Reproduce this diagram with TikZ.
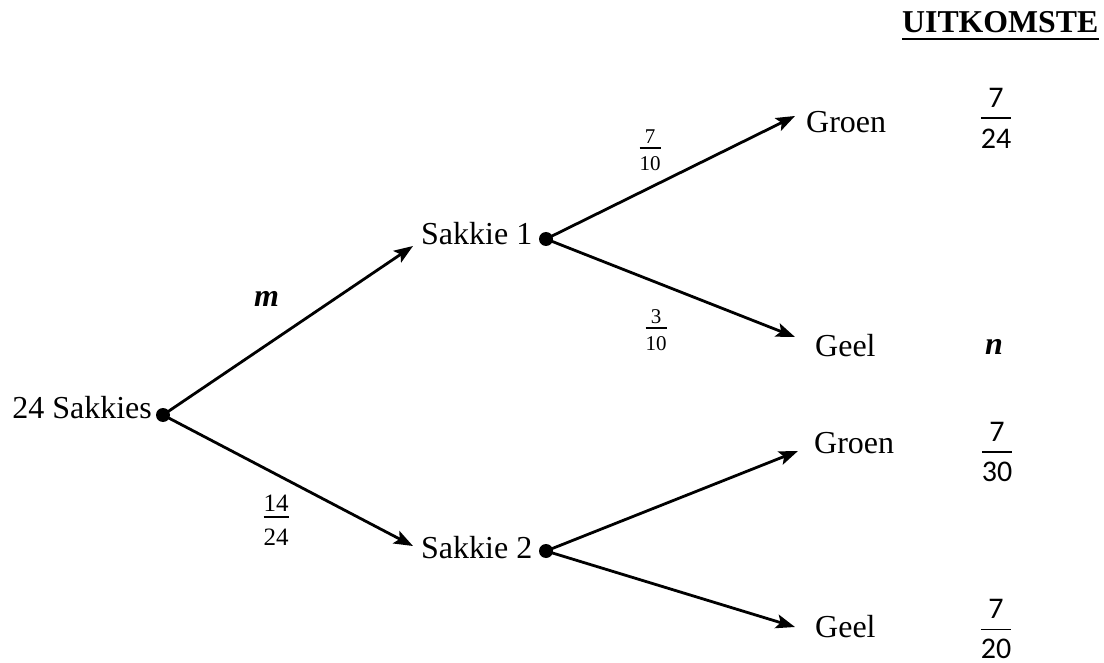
\documentclass[tikz,border=0pt]{standalone}
\usepackage{fontspec}
\setmainfont{Liberation Serif}
\newfontfamily\calfont{Carlito}
\usetikzlibrary{arrows.meta}
\setlength{\arrayrulewidth}{1.8pt}
\newcommand\fr[4]{{\renewcommand\arraystretch{0}\begin{tabular}{@{}c@{}}\rule[-#3]{0pt}{#3}#1\\\hline\rule{0pt}{#4}#2\end{tabular}}}
\tikzset{
  lbl/.style={inner sep=0pt, anchor=base west, font=\fontsize{32}{38}\selectfont},
  dotnode/.style={circle, fill=black, inner sep=0pt, minimum size=14pt},
  arr/.style={line width=2.8pt, -{Stealth[length=19pt,width=14pt,inset=4pt]}},
  smallfrac/.style={inner sep=0pt, font=\fontsize{21}{25}\selectfont},
  outfrac/.style={inner sep=0pt, font=\calfont\fontsize{30}{36}\selectfont},
  var/.style={inner sep=0pt, anchor=base west, font=\fontsize{32}{38}\selectfont\bfseries\itshape}
}
\begin{document}
\begin{tikzpicture}[x=1pt,y=-1pt]
\useasboundingbox (0,0) rectangle (1104,663);
% dots
\node[dotnode] (r) at (163,415) {};
\node[dotnode] (s1) at (546,239) {};
\node[dotnode] (s2) at (546,551) {};
% labels
\node[lbl, anchor=base east] (rl) at (152,418) {24 Sakkies};
\node[lbl] (s1l) at (421,245) {Sakkie 1};
\node[lbl] (s2l) at (421,558) {Sakkie 2};
\node[lbl] (g1) at (806,133) {Groen};
\node[lbl] (y1) at (815,356) {Geel};
\node[lbl] (g2) at (814,453) {Groen};
\node[lbl] (y2) at (815,637) {Geel};
% arrow tips
\coordinate (t1) at (413,246);
\coordinate (t2) at (413,546);
\coordinate (t3) at (795,116);
\coordinate (t4) at (795,337);
\coordinate (t5) at (798,451);
\coordinate (t6) at (795,627);
\draw[arr] (r.center) -- (t1);
\draw[arr] (r.center) -- (t2);
\draw[arr] (s1.center) -- (t3);
\draw[arr] (s1.center) -- (t4);
\draw[arr] (s2.center) -- (t5);
\draw[arr] (s2.center) -- (t6);
% branch probabilities
\node[var] (m) at (254,307) {m};
\node[smallfrac] (p1) at (650,150) {\fr{7}{10}{4pt}{21pt}};
\node[smallfrac] (p2) at (656,330) {\fr{3}{10}{4pt}{21pt}};
\node[smallfrac, font=\fontsize{25}{30}\selectfont] (p3) at (276,520) {\fr{14}{24}{5pt}{27pt}};
% outcomes
\node[inner sep=0pt, anchor=base west, font=\fontsize{31.8}{38}\selectfont\bfseries] (u) at (902,33) {UITKOMSTE};
\draw[line width=2.8pt] ([yshift=-6pt]u.base west) -- ([yshift=-6pt]u.base east);
\node[outfrac] (o1) at (996,118) {\fr{7}{24}{10pt}{29pt}};
\node[var] (n) at (985,355) {n};
\node[outfrac] (o3) at (997,452) {\fr{7}{30}{10pt}{29pt}};
\node[outfrac] (o4) at (996,629) {\fr{7}{20}{10pt}{28pt}};
\end{tikzpicture}
\end{document}
